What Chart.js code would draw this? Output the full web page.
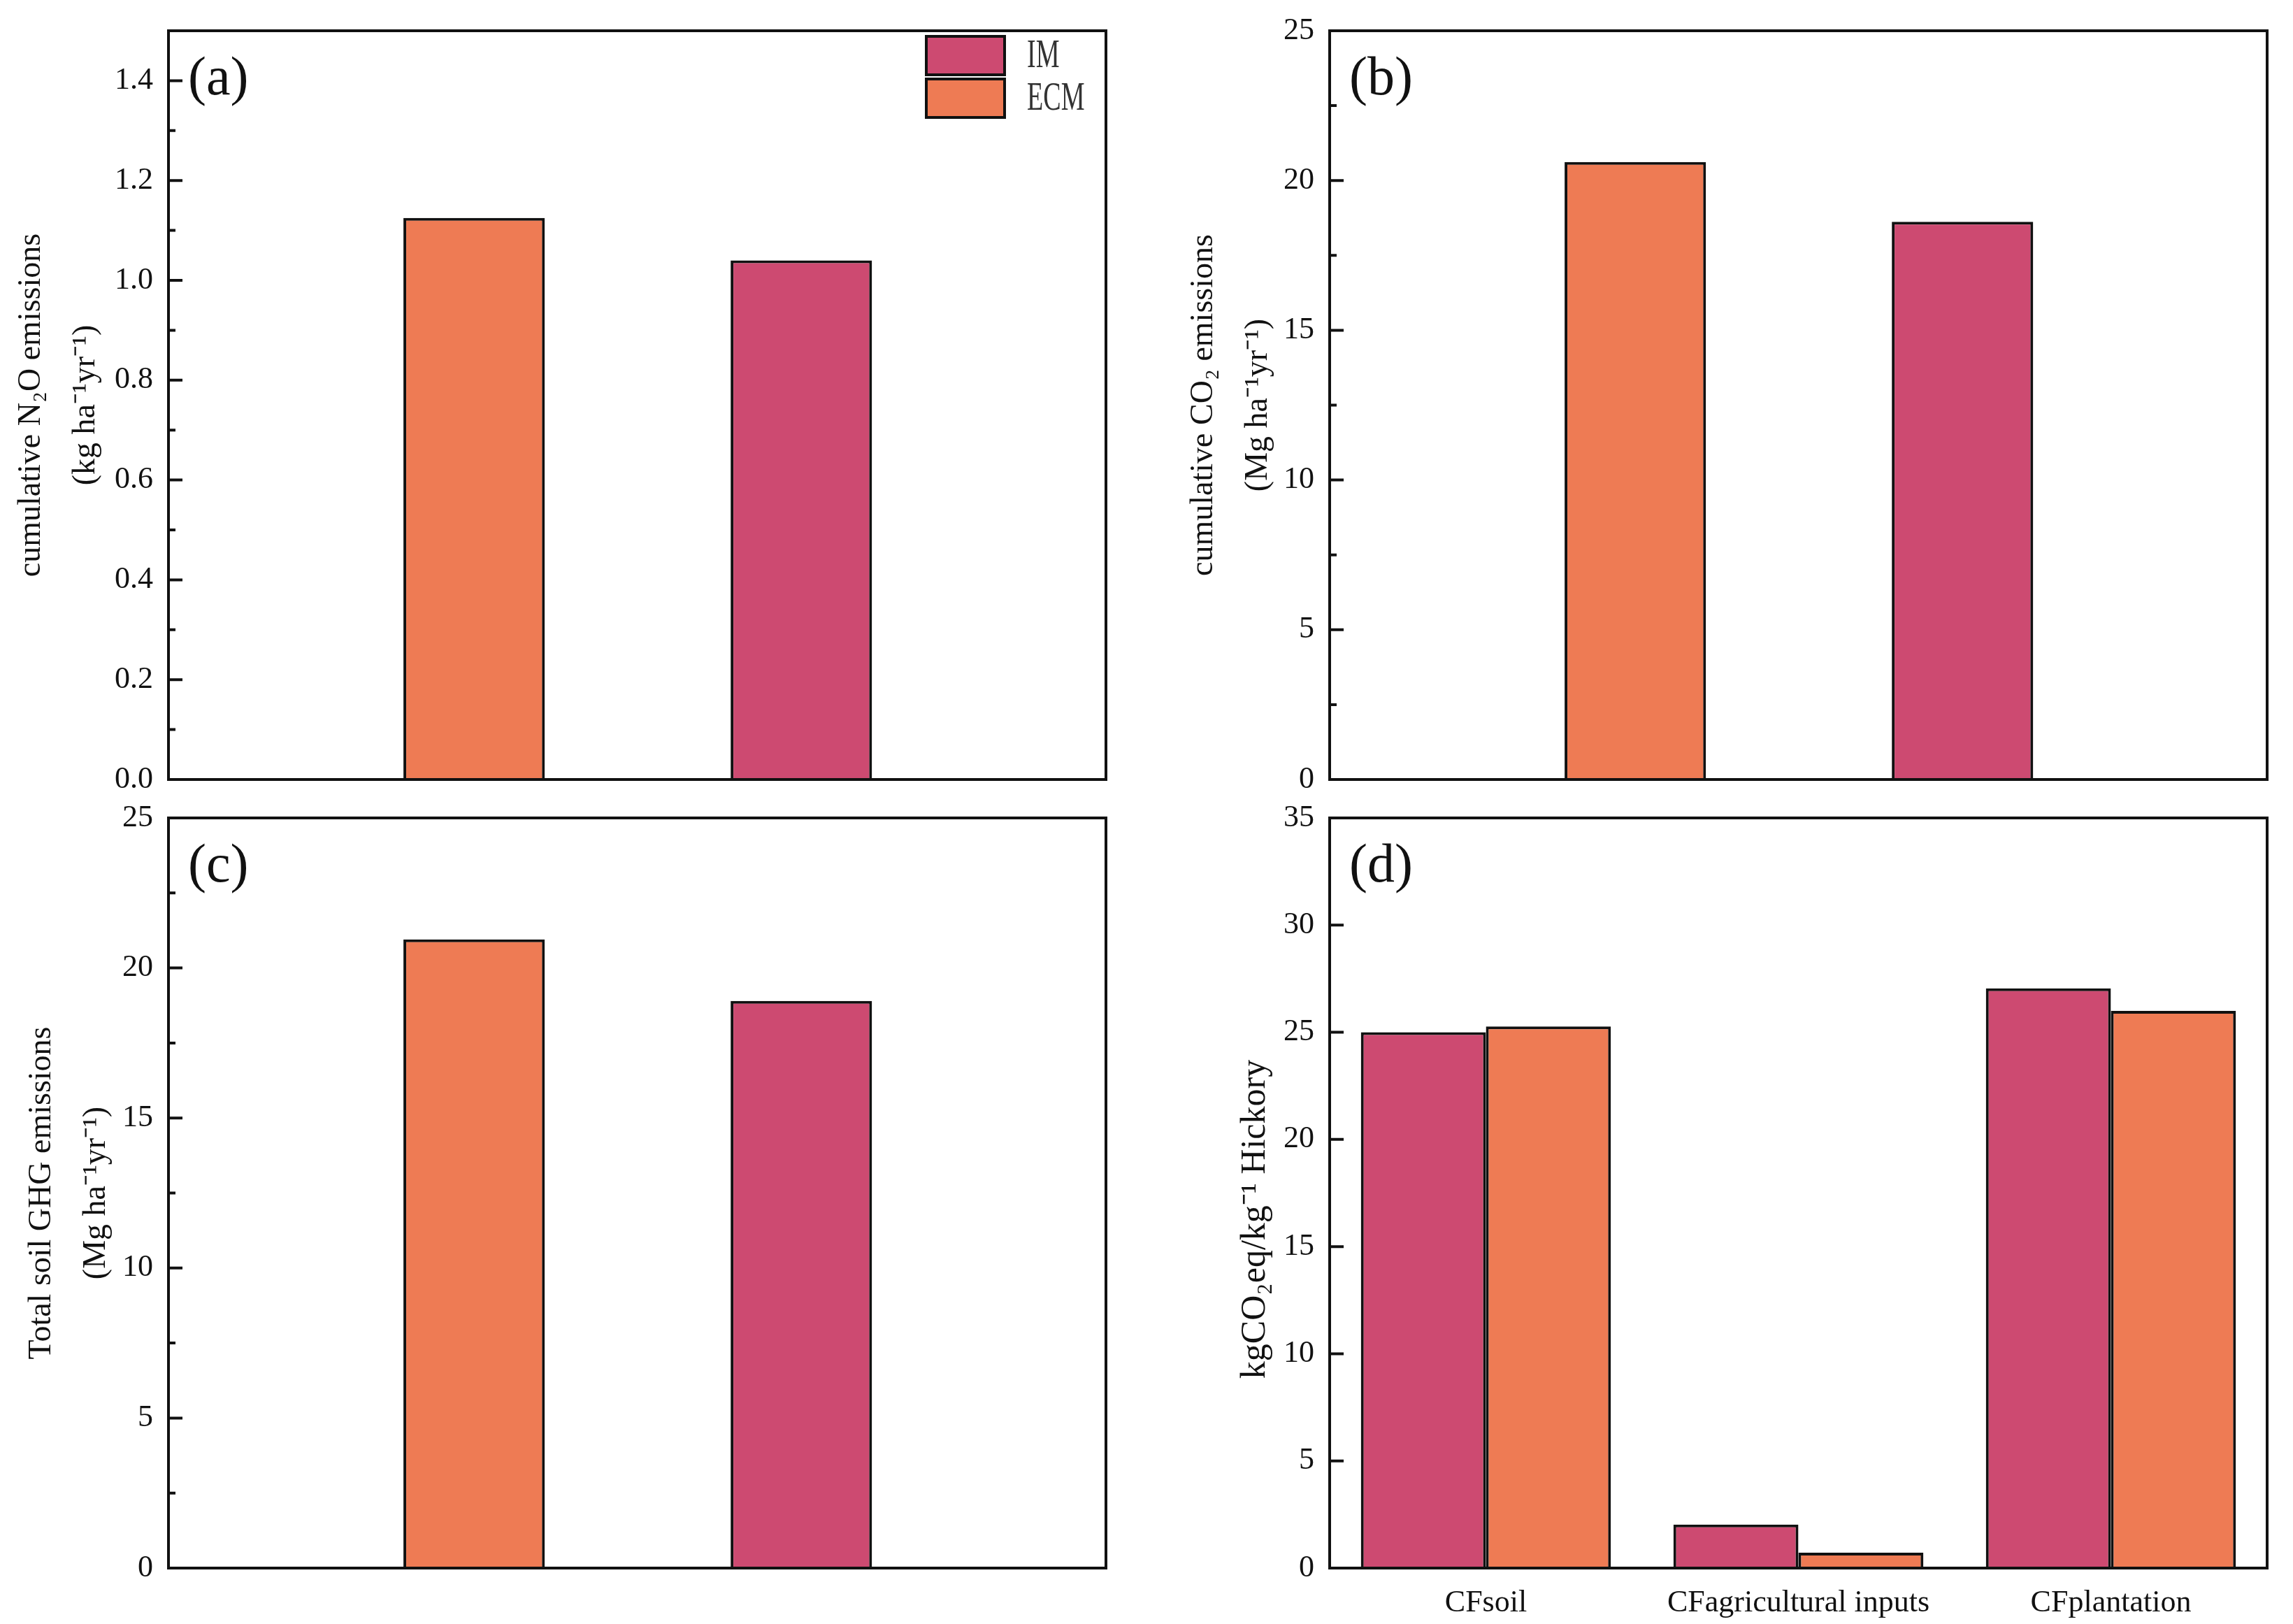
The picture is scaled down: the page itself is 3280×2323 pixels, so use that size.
<!DOCTYPE html>
<html>
<head>
<meta charset="utf-8">
<title>Soil emissions, IM vs ECM</title>
<script src="https://cdn.jsdelivr.net/npm/chart.js@4.4.1/dist/chart.umd.min.js"></script>
<style>
  html, body { margin: 0; padding: 0; background: #fff; overflow: hidden; }
  #page { position: relative; width: 3280px; height: 2323px; background: #fff; overflow: hidden; }
  .panel { position: absolute; }
  .panel canvas { display: block; }
</style>
</head>
<body>
<div id="page">
  <div class="panel" style="left:0;top:-16px;width:1640px;height:1191px"><canvas id="chartA"></canvas></div>
  <div class="panel" style="left:1640px;top:-16px;width:1640px;height:1191px"><canvas id="chartB"></canvas></div>
  <div class="panel" style="left:0;top:1110px;width:1640px;height:1213px"><canvas id="chartC"></canvas></div>
  <div class="panel" style="left:1640px;top:1110px;width:1640px;height:1213px"><canvas id="chartD"></canvas></div>
</div>
<script>
// data
const seriesNames = ['IM', 'ECM'];
const abcGroups   = ['ECM', 'IM'];        // left-to-right order of the bars in (a)-(c)
const n2oValues   = [1.125, 1.04];        // (a) cumulative N2O, kg ha-1 yr-1
const co2Values   = [20.62, 18.62];       // (b) cumulative CO2, Mg ha-1 yr-1
const ghgValues   = [20.95, 18.9];        // (c) total soil GHG, Mg ha-1 yr-1
const cfCategories = ['CFsoil', 'CFagricultural inputs', 'CFplantation'];
const cfIM  = [25.0, 2.03, 27.05];        // (d) kgCO2eq/kg Hickory
const cfECM = [25.27, 0.72, 26.0];

const colors = { IM: '#CD4A71', ECM: '#EE7B54' };
const SERIF = "'Liberation Serif', 'Times New Roman', serif";
const INK = '#111';

Chart.defaults.font.family = SERIF;
Chart.defaults.color = INK;

// frame + inward ticks (major and optional minor)
const framePlugin = {
  id: 'frame',
  afterDatasetsDraw(chart, args, opts) {
    const { ctx, chartArea: a } = chart;
    const y = chart.scales.y;
    const ticks = y.ticks;
    ctx.save();
    ctx.strokeStyle = INK;
    ctx.lineWidth = 4;
    ctx.beginPath();
    ticks.forEach(t => {
      const p = y.getPixelForValue(t.value);
      ctx.moveTo(a.left, p); ctx.lineTo(a.left + 20, p);
    });
    if (opts.minor && ticks.length > 1) {
      const step = ticks[1].value - ticks[0].value;
      for (let v = y.min + step / 2; v <= y.max + 1e-9; v += step) {
        const p = y.getPixelForValue(v);
        ctx.moveTo(a.left, p); ctx.lineTo(a.left + 10, p);
      }
    }
    ctx.stroke();
    ctx.lineJoin = 'miter';
    ctx.strokeRect(a.left, a.top, a.right - a.left, a.bottom - a.top);
    ctx.restore();
  }
};

// "(a)" style panel letter
const panelLabel = {
  id: 'panelLabel',
  afterDraw(chart, args, opts) {
    if (!opts.text) return;
    const { ctx, chartArea: a } = chart;
    ctx.save();
    ctx.font = `78px ${SERIF}`;
    ctx.fillStyle = INK;
    ctx.textAlign = 'left';
    ctx.textBaseline = 'middle';
    ctx.fillText(opts.text, a.left + 28, a.top + 71);
    ctx.restore();
  }
};

// legend boxes inside the plot, top right
const innerLegend = {
  id: 'innerLegend',
  afterDraw(chart, args, opts) {
    if (!opts.show) return;
    const { ctx, chartArea: a } = chart;
    const boxW = 112, boxH = 55, gap = 6;
    const x0 = a.right - 257;
    let y0 = a.top + 8;
    ctx.save();
    chart.data.datasets.forEach(ds => {
      ctx.fillStyle = ds.backgroundColor;
      ctx.fillRect(x0, y0, boxW, boxH);
      ctx.strokeStyle = INK;
      ctx.lineWidth = 4;
      ctx.strokeRect(x0, y0, boxW, boxH);
      ctx.save();
      ctx.translate(x0 + boxW + 32, y0 + boxH / 2 + 2);
      ctx.scale(0.68, 1);
      ctx.font = `56px ${SERIF}`;
      ctx.fillStyle = '#333';
      ctx.textBaseline = 'middle';
      ctx.fillText(ds.label, 0, 0);
      ctx.restore();
      y0 += boxH + gap;
    });
    ctx.restore();
  }
};

Chart.register(framePlugin, panelLabel, innerLegend);

function barStyle(name) {
  return {
    label: name,
    backgroundColor: colors[name],
    borderColor: INK,
    borderWidth: 4,
    borderSkipped: 'start'
  };
}

function yScale(p) {
  return {
    min: 0,
    max: p.max,
    afterFit: s => { s.width = p.yWidth; },
    grid: { display: false, drawTicks: false },
    border: { display: false },
    ticks: {
      stepSize: p.step,
      includeBounds: false,
      padding: 22,
      font: { size: 44 },
      color: INK,
      callback: v => p.decimals ? Number(v).toFixed(p.decimals) : String(Math.round(v))
    },
    title: {
      display: true,
      text: p.title,
      font: { size: p.titleSize || 46, lineHeight: 1.7 },
      color: INK,
      padding: { top: p.titlePad, bottom: 0 }
    }
  };
}

// panels (a)-(c): one bar per group, groups sit at x = 1, 2 on a linear axis
function groupChart(id, values, p) {
  const datasets = seriesNames.map(name => Object.assign(barStyle(name), {
    data: abcGroups.map((g, i) => g === name ? { x: i + 1, y: values[i] } : null).filter(Boolean),
    grouped: false,
    categoryPercentage: 1,
    barPercentage: 0.432
  }));
  return new Chart(document.getElementById(id), {
    type: 'bar',
    data: { datasets },
    options: {
      responsive: true,
      maintainAspectRatio: false,
      animation: false,
      layout: { padding: { top: 60, right: p.padRight, left: 0, bottom: 0 } },
      plugins: {
        legend: { display: false },
        tooltip: { enabled: false },
        frame: { minor: true },
        panelLabel: { text: p.letter },
        innerLegend: { show: !!p.legend }
      },
      scales: {
        x: {
          type: 'linear',
          offset: false,
          min: 0.066,
          max: 2.931,
          afterFit: s => { s.height = p.xHeight; },
          grid: { display: false, drawTicks: false, offset: false },
          border: { display: false },
          ticks: { display: false, stepSize: 1, includeBounds: false }
        },
        y: yScale(p)
      }
    }
  });
}

groupChart('chartA', n2oValues, {
  letter: '(a)', legend: true, max: 1.5, step: 0.2, decimals: 1,
  yWidth: 241, padRight: 58, xHeight: 60, titlePad: 6,
  title: ['cumulative N\u2082O emissions', '(kg ha\u207B\u00B9yr\u207B\u00B9)']
});

groupChart('chartB', co2Values, {
  letter: '(b)', max: 25, step: 5, decimals: 0,
  yWidth: 262, padRight: 37, xHeight: 60, titlePad: 43,
  title: ['cumulative CO\u2082 emissions', '(Mg ha\u207B\u00B9yr\u207B\u00B9)']
});

groupChart('chartC', ghgValues, {
  letter: '(c)', max: 25, step: 5, decimals: 0,
  yWidth: 241, padRight: 58, xHeight: 80, titlePad: 21,
  title: ['Total soil GHG emissions', '(Mg ha\u207B\u00B9yr\u207B\u00B9)']
});

// panel (d): grouped bars by carbon-footprint component
new Chart(document.getElementById('chartD'), {
  type: 'bar',
  data: {
    labels: cfCategories,
    datasets: [
      Object.assign(barStyle('IM'), { data: cfIM }),
      Object.assign(barStyle('ECM'), { data: cfECM })
    ]
  },
  options: {
    responsive: true,
    maintainAspectRatio: false,
    animation: false,
    categoryPercentage: 0.8,
    barPercentage: 1.0,
    layout: { padding: { top: 60, right: 37, left: 0, bottom: 0 } },
    plugins: {
      legend: { display: false },
      tooltip: { enabled: false },
      frame: { minor: false },
      panelLabel: { text: '(d)' },
      innerLegend: { show: false }
    },
    scales: {
      x: {
        afterFit: s => { s.height = 80; },
        grid: { display: false, drawTicks: false },
        border: { display: false },
        ticks: { padding: 24, font: { size: 44 }, color: INK, maxRotation: 0 }
      },
      y: yScale({
        max: 35, step: 5, decimals: 0, yWidth: 262, titlePad: 113, titleSize: 50,
        // trailing em/en spaces nudge the centred title slightly down, as in the original
        title: 'kgCO\u2082eq/kg\u207B\u00B9 Hickory\u2003\u2002'
      })
    }
  }
});
</script>
</body>
</html>
